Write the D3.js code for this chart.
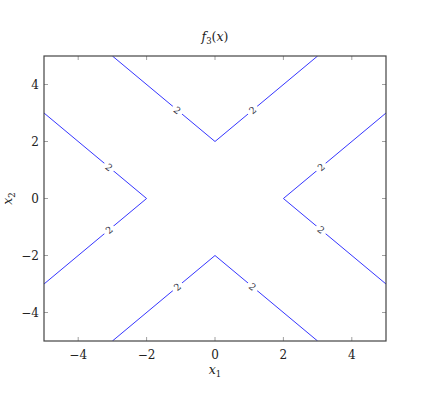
<!DOCTYPE html>
<html>
<head>
<meta charset="utf-8">
<script src="https://cdn.jsdelivr.net/npm/d3@7"></script>
<style>
  body { margin: 0; background: #fff; }
</style>
</head>
<body>
<svg width="432" height="403" font-family="'DejaVu Serif', 'Liberation Serif', serif"></svg>
<script>
// contour level 2 of f3, four V-shaped branches
const level = 2
const contours = [
  [[-3, 5], [0, 2], [3, 5]],
  [[-3, -5], [0, -2], [3, -5]],
  [[-5, 3], [-2, 0], [-5, -3]],
  [[5, 3], [2, 0], [5, -3]]
]
// contour label positions (x1, x2) and direction of the branch
const labels = [
  { x: -1.1, y: 3.1, dx: 1, dy: -1 },
  { x: 1.1, y: 3.1, dx: 1, dy: 1 },
  { x: -1.1, y: -3.1, dx: 1, dy: 1 },
  { x: 1.1, y: -3.1, dx: 1, dy: -1 },
  { x: -3.1, y: 1.1, dx: 1, dy: -1 },
  { x: -3.1, y: -1.1, dx: 1, dy: 1 },
  { x: 3.1, y: 1.1, dx: 1, dy: 1 },
  { x: 3.1, y: -1.1, dx: 1, dy: -1 }
]
const xTicks = [-4, -2, 0, 2, 4]
const yTicks = [-4, -2, 0, 2, 4]

const svg = d3.select('svg')
const margin = { top: 56, right: 46, bottom: 62, left: 44 }
const width = 432 - margin.left - margin.right
const height = 403 - margin.top - margin.bottom

const x = d3.scaleLinear().domain([-5, 5]).range([0, width])
const y = d3.scaleLinear().domain([-5, 5]).range([height, 0])

const g = svg.append('g')
    .attr('transform', `translate(${margin.left}, ${margin.top})`)

const fmt = d => d < 0 ? '\u2212' + Math.abs(d) : '' + d

// ticks, drawn inward on all four sides
const tickLen = 4
const tickColor = '#888'
xTicks.forEach(t => {
    g.append('line').attr('x1', x(t)).attr('x2', x(t)).attr('y1', height).attr('y2', height - tickLen)
        .attr('stroke', tickColor).attr('stroke-width', 0.8)
    g.append('line').attr('x1', x(t)).attr('x2', x(t)).attr('y1', 0).attr('y2', tickLen)
        .attr('stroke', tickColor).attr('stroke-width', 0.8)
    g.append('text').attr('x', x(t)).attr('y', height + 18)
        .attr('text-anchor', 'middle').attr('font-size', 12).attr('fill', '#222').text(fmt(t))
})
yTicks.forEach(t => {
    g.append('line').attr('x1', 0).attr('x2', tickLen).attr('y1', y(t)).attr('y2', y(t))
        .attr('stroke', tickColor).attr('stroke-width', 0.8)
    g.append('line').attr('x1', width).attr('x2', width - tickLen).attr('y1', y(t)).attr('y2', y(t))
        .attr('stroke', tickColor).attr('stroke-width', 0.8)
    g.append('text').attr('x', -5).attr('y', y(t) + 4.5)
        .attr('text-anchor', 'end').attr('font-size', 12).attr('fill', '#222').text(fmt(t))
})

const line = d3.line().x(d => x(d[0])).y(d => y(d[1]))

g.append('defs').append('clipPath').attr('id', 'clip')
    .append('rect').attr('width', width).attr('height', height)

g.append('g').attr('clip-path', 'url(#clip)')
    .selectAll('path')
    .data(contours)
    .enter().append('path')
    .attr('d', line)
    .attr('fill', 'none')
    .attr('stroke', '#3535ff')
    .attr('stroke-width', 1)

// contour labels, rotated along the line with a gap behind them
const lab = g.selectAll('.lab')
    .data(labels)
    .enter().append('g')
    .attr('class', 'lab')
    .attr('transform', d => {
        const ang = Math.atan2(y(d.y + d.dy) - y(d.y), x(d.x + d.dx) - x(d.x)) * 180 / Math.PI
        return `translate(${x(d.x)}, ${y(d.y)}) rotate(${ang})`
    })
lab.append('rect').attr('x', -6).attr('y', -5).attr('width', 12).attr('height', 10).attr('fill', '#fff')
lab.append('text').attr('text-anchor', 'middle').attr('y', 3.5)
    .attr('font-size', 9.5).attr('fill', '#334').text(level)

// frame
g.append('rect').attr('width', width).attr('height', height)
    .attr('fill', 'none').attr('stroke', '#444').attr('stroke-width', 1.2)

// title and axis labels
svg.append('text').attr('x', margin.left + width / 2).attr('y', 41)
    .attr('text-anchor', 'middle').attr('font-size', 12.5).attr('fill', '#222')
    .html('<tspan font-style="italic">f</tspan><tspan font-size="8.5" dy="3">3</tspan><tspan dy="-3">(</tspan><tspan font-style="italic">x</tspan>)')

svg.append('text').attr('x', margin.left + width / 2).attr('y', 374)
    .attr('text-anchor', 'middle').attr('font-size', 12.5).attr('fill', '#222')
    .html('<tspan font-style="italic">x</tspan><tspan font-size="8.5" dy="3">1</tspan>')

svg.append('text').attr('transform', `translate(12, ${margin.top + height / 2}) rotate(-90)`)
    .attr('text-anchor', 'middle').attr('font-size', 12.5).attr('fill', '#222')
    .html('<tspan font-style="italic">x</tspan><tspan font-size="8.5" dy="3">2</tspan>')
</script>
</body>
</html>
